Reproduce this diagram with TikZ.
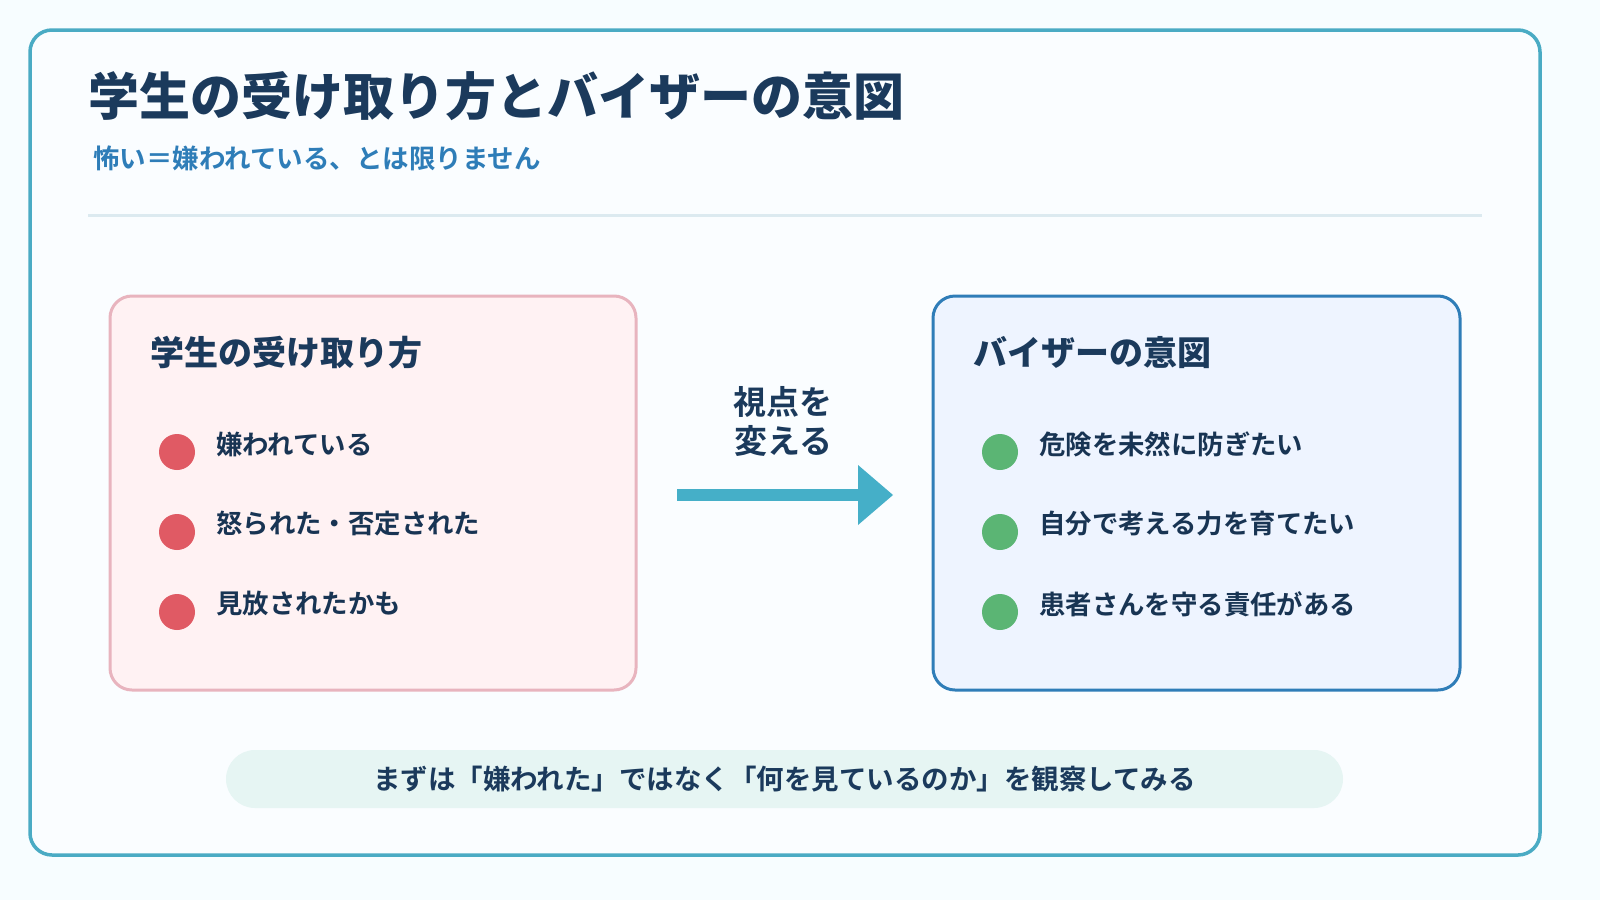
\documentclass[tikz,border=0pt]{standalone}
\usepackage{fontspec}
\setmainfont{Noto Sans CJK JP}[BoldFont={Noto Sans CJK JP Bold}]
\newfontfamily\jpb{Noto Sans CJK JP Black}
\definecolor{frame}{HTML}{4AABC4}
\definecolor{navy}{HTML}{1B3A5C}
\definecolor{sub}{HTML}{2E7DB8}
\definecolor{pinkf}{HTML}{FFF2F3}
\definecolor{pinks}{HTML}{E8B4BE}
\definecolor{bluef}{HTML}{EEF4FF}
\definecolor{blues}{HTML}{2F7DB8}
\definecolor{redd}{HTML}{E05A64}
\definecolor{grn}{HTML}{5BB574}
\definecolor{arr}{HTML}{45AFC8}
\definecolor{pill}{HTML}{E6F5F3}
\begin{document}
\begin{tikzpicture}[x=1pt,y=-1pt,
  txt/.style={anchor=west,inner sep=0,font=\fontsize{26.4}{30}\selectfont\bfseries,text=navy!90!black},
  head/.style={anchor=west,inner sep=0,font=\fontsize{34}{38}\selectfont\jpb,text=navy},
  dotr/.style={circle,fill=redd,minimum size=36pt,inner sep=0},
  dotg/.style={circle,fill=grn,minimum size=36pt,inner sep=0},
  box/.style={rounded corners=22pt,line width=3pt}]
\fill[white!97!cyan] (0,0) rectangle (1600,900);
\draw[frame,line width=3.5pt,rounded corners=22pt,fill=white!98!cyan] (30,30) rectangle (1540,855);
\node[anchor=west,inner sep=0,font=\fontsize{51}{56}\selectfont\jpb,text=navy] (title) at (88,96) {学生の受け取り方とバイザーの意図};
\node[anchor=west,inner sep=0,font=\fontsize{26.5}{30}\selectfont\bfseries,text=sub] (subt) at (93,158) {怖い＝嫌われている、とは限りません};
\draw[line width=3pt,color={rgb,255:red,220;green,234;blue,240}] (88,215) -- (1482,215);
\draw[box,draw=pinks,fill=pinkf] (110,296) rectangle (636,690);
\draw[box,draw=blues,fill=bluef] (933,296) rectangle (1460,690);
\node[head] (lh) at (150,353) {学生の受け取り方};
\node[head] (rh) at (973,353) {バイザーの意図};
\foreach \y/\t [count=\i] in {452/嫌われている,532/怒られた・否定された,612/見放されたかも}{
  \node[dotr] (l\i) at (177,\y) {};
  \node[txt] (lt\i) at (216,\y-8) {\t};}
\foreach \y/\t [count=\i] in {452/危険を未然に防ぎたい,532/自分で考える力を育てたい,612/患者さんを守る責任がある}{
  \node[dotg] (r\i) at (1000,\y) {};
  \node[txt] (rt\i) at (1039,\y-8) {\t};}
\coordinate (as) at (677,495);
\coordinate (ae) at (858,495);
\draw[arr,line width=12pt] (as) -- (ae);
\fill[arr] (858,465) -- (893,495) -- (858,525) -- cycle;
\node[align=center,inner sep=0,font=\fontsize{33}{39}\selectfont\bfseries,text=navy] (al) at (783,421) {視点を\\変える};
\node[fill=pill,rounded corners=29pt,minimum width=1117pt,minimum height=58pt,inner sep=0] (p) at (784.5,779) {};
\node[inner sep=0,font=\fontsize{27.5}{30}\selectfont\bfseries,text=navy] at (p) {まずは「嫌われた」ではなく「何を見ているのか」を観察してみる};
\pgfresetboundingbox
\useasboundingbox (0,0) rectangle (1600,900);
\end{tikzpicture}
\end{document}
